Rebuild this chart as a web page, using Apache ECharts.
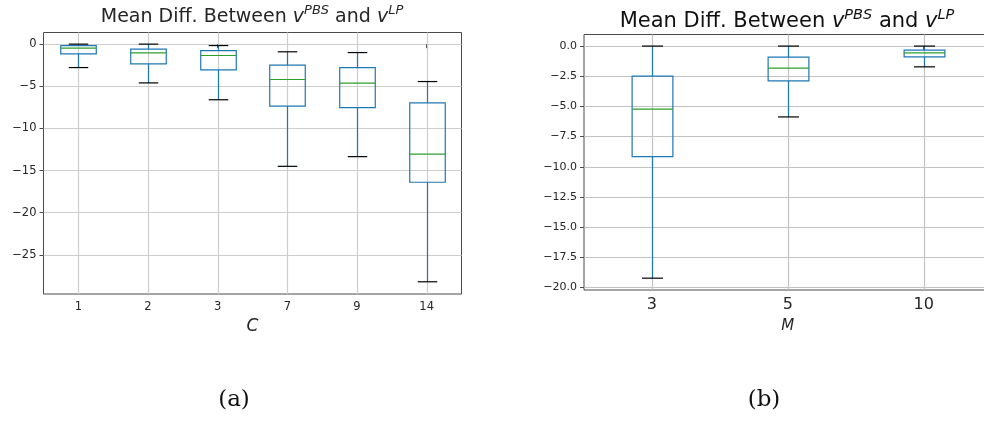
<!DOCTYPE html>
<html>
<head>
<meta charset="utf-8">
<script src="https://cdn.jsdelivr.net/npm/echarts@6/dist/echarts.min.js"></script>
<style>
html,body{margin:0;padding:0;background:#fff;overflow:hidden;}
#chart{width:1000px;height:421px;}
</style>
</head>
<body>
<div id="chart"></div>
<script>
// ---- Data: panel (a), grouped by C ----
const catsC = ['1', '2', '3', '7', '9', '14'];
const hiC   = [0, 0, -0.17, -0.91, -1.0, -4.44];
const q3C   = [-0.17, -0.6, -0.76, -2.49, -2.78, -6.97];
const medC  = [-0.48, -1.03, -1.35, -4.2, -4.63, -13.06];
const q1C   = [-1.15, -2.34, -3.05, -7.36, -7.53, -16.39];
const loC   = [-2.78, -4.6, -6.6, -14.5, -13.35, -28.2];
const yTicksC = [0, -5, -10, -15, -20, -25];

// ---- Data: panel (b), grouped by M ----
const catsM = ['3', '5', '10'];
const hiM   = [0, 0, 0];
const q3M   = [-2.49, -0.91, -0.33];
const medM  = [-5.23, -1.83, -0.56];
const q1M   = [-9.16, -2.88, -0.89];
const loM   = [-19.23, -5.87, -1.72];
const yTicksM = [0, -2.5, -5, -7.5, -10, -12.5, -15, -17.5, -20];

// axis extents (matplotlib 5% margins)
const yRangeC = [-29.65, 1.38];
const yRangeM = [-20.21, 0.96];

const BLUE = '#1f77b4', GREEN = '#2ca02c', CAP = '#000000';
const TXT = '#262626', SPINE = '#4a4a4a';
const GRID_A = '#cecece', GRID_B = '#c2c2c2';

function rows(hi, q3, med, q1, lo) {
  return hi.map((_, i) => [i, lo[i], q1[i], med[i], q3[i], hi[i]]);
}

// vertical grid line at each category centre
function makeGridRender(yRange, gridColor) {
  return function (params, api) {
    const x = api.value(0);
    const pTop = api.coord([x, yRange[1]]);
    const pBot = api.coord([x, yRange[0]]);
    const cx = Math.round(pTop[0]) + 0.5;
    return {
      type: 'line', silent: true,
      shape: { x1: cx, y1: pTop[1], x2: cx, y2: pBot[1] },
      style: { stroke: gridColor, lineWidth: 1.2 }
    };
  };
}

function makeBoxRender(boxFrac, capFrac) {
  return function (params, api) {
    const x = api.value(0);
    const lo = api.value(1), q1 = api.value(2), med = api.value(3), q3 = api.value(4), hi = api.value(5);
    const band = api.size([1, 0])[0];
    const bw = band * boxFrac, cw = band * capFrac;
    const pLo = api.coord([x, lo]), pQ1 = api.coord([x, q1]), pMed = api.coord([x, med]);
    const pQ3 = api.coord([x, q3]), pHi = api.coord([x, hi]);
    const cx = Math.round(pMed[0]) + 0.5;
    const ln = (x1, y1, x2, y2, color) => ({
      type: 'line', shape: { x1, y1, x2, y2 },
      style: { stroke: color, lineWidth: 1.2, fill: null }
    });
    return {
      type: 'group',
      children: [
        ln(cx, pHi[1], cx, pQ3[1], BLUE),
        ln(cx, pQ1[1], cx, pLo[1], BLUE),
        {
          type: 'rect',
          shape: { x: cx - bw / 2, y: pQ3[1], width: bw, height: pQ1[1] - pQ3[1] },
          style: { stroke: BLUE, lineWidth: 1.2, fill: null }
        },
        ln(cx - bw / 2, pMed[1], cx + bw / 2, pMed[1], GREEN),
        ln(cx - cw / 2, pHi[1], cx + cw / 2, pHi[1], CAP),
        ln(cx - cw / 2, pLo[1], cx + cw / 2, pLo[1], CAP)
      ]
    };
  };
}

const minus = s => s.replace('-', '\u2212');

const chart = echarts.init(document.getElementById('chart'));
chart.setOption({
  animation: false,
  backgroundColor: '#ffffff',
  textStyle: { fontFamily: 'DejaVu Sans' },
  grid: [
    { left: 43.5, top: 32.5, width: 418, height: 261.5, show: true, borderColor: SPINE, borderWidth: 1, backgroundColor: 'transparent', containLabel: false },
    { left: 584, top: 34.5, width: 407.6, height: 255.5, show: true, borderColor: SPINE, borderWidth: 1, backgroundColor: 'transparent', containLabel: false }
  ],
  xAxis: [
    {
      gridIndex: 0, type: 'category', data: catsC, boundaryGap: true,
      axisLine: { show: false },
      axisTick: { show: true, alignWithLabel: true, length: 4, lineStyle: { color: SPINE } },
      axisLabel: { color: TXT, fontSize: 11.5, margin: 7 },
      splitLine: { show: false },
      name: 'C', nameLocation: 'middle', nameGap: 22,
      nameTextStyle: { color: TXT, fontSize: 17, fontStyle: 'italic', fontFamily: 'DejaVu Sans' }
    },
    {
      gridIndex: 1, type: 'category', data: catsM, boundaryGap: true,
      axisLine: { show: false },
      axisTick: { show: true, alignWithLabel: true, length: 4, lineStyle: { color: SPINE } },
      axisLabel: { color: TXT, fontSize: 16, margin: 7 },
      splitLine: { show: false },
      name: 'M', nameLocation: 'middle', nameGap: 29,
      nameTextStyle: { color: TXT, fontSize: 15, fontStyle: 'italic', fontFamily: 'DejaVu Sans' }
    }
  ],
  yAxis: [
    {
      gridIndex: 0, type: 'value', min: yRangeC[0], max: yRangeC[1],
      axisLine: { show: false },
      axisTick: { show: true, length: 4, lineStyle: { color: SPINE }, customValues: yTicksC },
      axisLabel: { color: TXT, fontSize: 11.5, margin: 7, customValues: yTicksC,
        formatter: v => minus(String(v)) },
      splitLine: { show: true, lineStyle: { color: GRID_A, width: 1.2 } }
    },
    {
      gridIndex: 1, type: 'value', min: yRangeM[0], max: yRangeM[1],
      axisLine: { show: false },
      axisTick: { show: true, length: 4, lineStyle: { color: SPINE }, customValues: yTicksM },
      axisLabel: { color: TXT, fontSize: 11, margin: 7, customValues: yTicksM,
        formatter: v => minus(Number(v).toFixed(1)) },
      splitLine: { show: true, lineStyle: { color: GRID_B, width: 1.2 } }
    }
  ],
  series: [
    {
      type: 'custom', xAxisIndex: 0, yAxisIndex: 0, z: 1, silent: true,
      renderItem: makeGridRender(yRangeC, GRID_A),
      encode: { x: 0, y: 1 },
      data: catsC.map((_, i) => [i, yRangeC[0]]), clip: false
    },
    {
      type: 'custom', xAxisIndex: 1, yAxisIndex: 1, z: 1, silent: true,
      renderItem: makeGridRender(yRangeM, GRID_B),
      encode: { x: 0, y: 1 },
      data: catsM.map((_, i) => [i, yRangeM[0]]), clip: false
    },
    {
      type: 'custom', xAxisIndex: 0, yAxisIndex: 0, z: 3,
      renderItem: makeBoxRender(0.51, 0.28),
      encode: { x: 0, y: [1, 2, 3, 4, 5] },
      data: rows(hiC, q3C, medC, q1C, loC), clip: false
    },
    {
      type: 'custom', xAxisIndex: 1, yAxisIndex: 1, z: 3,
      renderItem: makeBoxRender(0.30, 0.155),
      encode: { x: 0, y: [1, 2, 3, 4, 5] },
      data: rows(hiM, q3M, medM, q1M, loM), clip: false
    }
  ],
  graphic: [
    {
      type: 'text', x: 252, y: 17,
      style: {
        text: 'Mean Diff. Between {v|v}{s|PBS} and {v|v}{s|LP}',
        fill: TXT, fontSize: 19, fontFamily: 'DejaVu Sans', lineHeight: 26,
        align: 'center', verticalAlign: 'middle',
        rich: {
          v: { fontSize: 19, fontStyle: 'italic', fontFamily: 'DejaVu Sans', fill: TXT, lineHeight: 26 },
          s: { fontSize: 13, fontStyle: 'italic', fontFamily: 'DejaVu Sans', fill: TXT, verticalAlign: 'top', lineHeight: 15 }
        }
      }
    },
    {
      type: 'text', x: 787, y: 22,
      style: {
        text: 'Mean Diff. Between {v|v}{s|PBS} and {v|v}{s|LP}',
        fill: '#111', fontSize: 21, fontFamily: 'DejaVu Sans', lineHeight: 28,
        align: 'center', verticalAlign: 'middle',
        rich: {
          v: { fontSize: 21, fontStyle: 'italic', fontFamily: 'DejaVu Sans', fill: '#111', lineHeight: 28 },
          s: { fontSize: 14.5, fontStyle: 'italic', fontFamily: 'DejaVu Sans', fill: '#111', verticalAlign: 'top', lineHeight: 16 }
        }
      }
    },
    {
      type: 'text', x: 234, y: 400,
      style: { text: '(a)', fill: '#111', fontSize: 23, fontFamily: 'DejaVu Serif', align: 'center', verticalAlign: 'middle' }
    },
    {
      type: 'text', x: 764, y: 400,
      style: { text: '(b)', fill: '#111', fontSize: 23, fontFamily: 'DejaVu Serif', align: 'center', verticalAlign: 'middle' }
    }
  ]
});
</script>
</body>
</html>
